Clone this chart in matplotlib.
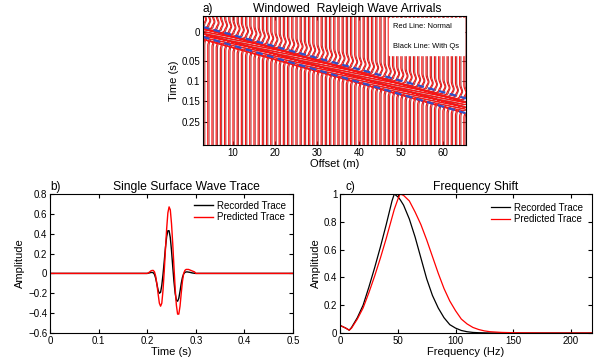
import numpy as np
import matplotlib
matplotlib.use("Agg")
import matplotlib.pyplot as plt
from matplotlib.lines import Line2D

plt.rcParams["font.family"] = ["Liberation Sans", "DejaVu Sans"]

# ---- panel a: windowed wiggle section ----
offsets = np.arange(3, 66)  # m
arrivals = [16.2, 17.4, 18.6, 19.8, 21.0, 22.2, 23.3, 24.5, 25.7, 26.9, 28.1, 29.3, 30.5,
            31.7, 32.9, 34.1, 35.2, 36.4, 37.6, 38.8, 40.0, 41.2, 42.4, 43.6, 44.8, 46.0,
            47.1, 48.3, 49.5, 50.7, 51.9, 53.1, 54.3, 55.5, 56.7, 57.9, 59.0, 60.2, 61.4,
            62.6, 63.8, 65.0, 66.2, 67.4, 68.6, 69.8, 70.9, 72.1, 73.3, 74.5, 75.7, 76.9,
            78.1, 79.3, 80.5, 81.7, 82.8, 84.0, 85.2, 86.4, 87.6, 88.8, 90.0]  # samples
wav_lag = np.arange(-20, 17)
wav_normal = [0, 0.03, 0.08, 0.15, 0.25, 0.35, 0.45, 0.5, 0.47, 0.37, 0.22, 0.08, 0.0,
              -0.1, -0.4, -1.4, -0.8, 1.0, 1.4, 0.2, -1.3, -1.3, 0.2, 1.4, 1.0, -0.4,
              -1.1, -0.4, 0.15, 0.2, 0.1, 0.03, 0, 0, 0, 0, 0]
wav_qs = [0, 0.02, 0.06, 0.12, 0.2, 0.28, 0.36, 0.4, 0.38, 0.3, 0.18, 0.07, 0.0,
          -0.05, -0.3, -1.0, -0.8, 0.6, 1.1, 0.35, -0.9, -1.1, 0.0, 1.0, 1.0, -0.1,
          -0.8, -0.5, 0.05, 0.15, 0.1, 0.05, 0.02, 0, 0, 0, 0]
n_samples = 130
win_top = ([2.86, 65.5], [11.0, 83.0])
win_bot = ([2.86, 65.5], [21.0, 98.0])
a_ytick_pos = [16, 45, 65, 86, 107]
a_ytick_lab = ["0", "0.05", "0.1", "0.15", "0.25"]

# ---- panel b: single trace ----
t_b = [0.0, 0.195, 0.2, 0.2025, 0.205, 0.2075, 0.21, 0.2125, 0.215, 0.2175, 0.22,
       0.2225, 0.225, 0.2275, 0.23, 0.2325, 0.235, 0.2375, 0.24, 0.2425, 0.245,
       0.2475, 0.25, 0.2525, 0.255, 0.2575, 0.26, 0.2625, 0.265, 0.2675, 0.27,
       0.2725, 0.275, 0.2775, 0.28, 0.2825, 0.285, 0.2875, 0.29, 0.2925, 0.295,
       0.2975, 0.3, 0.5]
recorded_b = [0, 0, 0.0, 0.003, 0.006, 0.009, 0.01, 0.006, -0.01, -0.05, -0.11,
              -0.17, -0.2, -0.19, -0.12, -0.01, 0.12, 0.26, 0.37, 0.43, 0.43,
              0.36, 0.23, 0.07, -0.08, -0.2, -0.27, -0.28, -0.25, -0.18, -0.1,
              -0.04, -0.005, 0.01, 0.015, 0.015, 0.013, 0.011, 0.008, 0.005, 0.003,
              0.001, 0, 0]
predicted_b = [0, 0, 0.0, 0.005, 0.015, 0.025, 0.03, 0.03, 0.015, -0.03, -0.11,
               -0.21, -0.3, -0.33, -0.3, -0.17, 0.02, 0.24, 0.45, 0.61, 0.67,
               0.64, 0.5, 0.3, 0.07, -0.15, -0.32, -0.41, -0.41, -0.33, -0.2,
               -0.08, 0.0, 0.03, 0.04, 0.04, 0.04, 0.035, 0.03, 0.025, 0.02,
               0.015, 0, 0]

# ---- panel c: amplitude spectra ----
f_c = [0, 5, 8, 10, 15, 20, 25, 30, 35, 40, 45, 47, 50, 52, 55, 60, 65, 70, 75, 80,
       85, 90, 95, 100, 105, 110, 115, 120, 125, 130, 140, 150, 160, 175, 218]
recorded_c = [0.055, 0.035, 0.02, 0.04, 0.11, 0.2, 0.33, 0.47, 0.62, 0.78, 0.95, 1.0,
              0.98, 0.96, 0.92, 0.82, 0.69, 0.54, 0.39, 0.27, 0.18, 0.11, 0.06, 0.035,
              0.018, 0.009, 0.004, 0.002, 0.001, 0, 0, 0, 0, 0, 0]
predicted_c = [0.055, 0.035, 0.02, 0.035, 0.1, 0.18, 0.29, 0.41, 0.54, 0.68, 0.83, 0.89,
               0.96, 1.0, 0.99, 0.95, 0.87, 0.78, 0.67, 0.55, 0.43, 0.32, 0.23, 0.16,
               0.1, 0.065, 0.04, 0.025, 0.015, 0.009, 0.004, 0.002, 0.001, 0, 0]


def style_axes(ax):
    ax.tick_params(direction="in", top=True, right=True, labelsize=7, length=3, pad=2)
    for s in ax.spines.values():
        s.set_linewidth(0.8)


def panel_label(ax, txt, x=0.0):
    ax.annotate(txt, (x, 1), xycoords="axes fraction", xytext=(0, 3),
                textcoords="offset points", fontsize=8.5, ha="left", va="baseline")


fig = plt.figure(figsize=(5.97, 3.64), dpi=100)

# panel a
ax = fig.add_axes([0.340, 0.6016, 0.4405, 0.3544])
for x0, t0 in zip(offsets, arrivals):
    y = np.concatenate([[0], t0 + wav_lag, [n_samples]])
    xq = np.concatenate([[0], wav_qs, [0]]) + x0 + 0.3
    xn = np.concatenate([[0], wav_normal, [0]]) + x0
    ax.plot(xq, y, color="#a84040", lw=0.8)
    ax.plot(xn, y, color="#ff1010", lw=0.85)
ax.plot(*win_top, color="#3050c8", lw=1.6, ls=(0, (3, 2)))
ax.plot(*win_bot, color="#3050c8", lw=1.6, ls=(0, (3, 2)))
ax.set_xlim(2.86, 65.5)
ax.set_ylim(n_samples, 0)
ax.set_xticks([10, 20, 30, 40, 50, 60])
ax.set_yticks(a_ytick_pos)
ax.set_yticklabels(a_ytick_lab)
style_axes(ax)
ax.set_xlabel("Offset (m)", fontsize=8, labelpad=1)
ax.set_ylabel("Time (s)", fontsize=8, labelpad=2)
ax.set_title("Windowed  Rayleigh Wave Arrivals", fontsize=8.7, pad=3, x=0.548)
panel_label(ax, "a)")
blank = Line2D([], [], lw=0)
leg = ax.legend([blank, blank], ["Red Line: Normal", "Black Line: With Qs"],
                loc="upper right", fontsize=5.4, handlelength=0, handletextpad=0,
                frameon=True, fancybox=False, borderpad=0.6, labelspacing=1.7,
                borderaxespad=0.3)
leg.get_frame().set_edgecolor("white")
leg.get_frame().set_alpha(1)

# panel b
ax = fig.add_axes([0.0838, 0.0852, 0.407, 0.3819])
ax.plot(t_b, recorded_b, color="black", lw=1.0, label="Recorded Trace")
ax.plot(t_b, predicted_b, color="#ff0000", lw=1.0, label="Predicted Trace")
ax.set_xlim(0, 0.5)
ax.set_ylim(-0.6, 0.8)
ax.set_xticks([0, 0.1, 0.2, 0.3, 0.4, 0.5])
ax.set_xticklabels(["0", "0.1", "0.2", "0.3", "0.4", "0.5"])
ax.set_yticks([-0.6, -0.4, -0.2, 0, 0.2, 0.4, 0.6, 0.8])
ax.set_yticklabels(["\u22120.6", "\u22120.4", "\u22120.2", "0", "0.2", "0.4", "0.6", "0.8"])
style_axes(ax)
ax.set_xlabel("Time (s)", fontsize=8, labelpad=1)
ax.set_ylabel("Amplitude", fontsize=8, labelpad=2)
ax.set_title("Single Surface Wave Trace", fontsize=8.7, pad=3, x=0.56)
panel_label(ax, "b)")
ax.legend(loc="upper right", fontsize=7, frameon=False, handlelength=2.0,
          handletextpad=0.4, labelspacing=0.15, borderaxespad=0.3)

# panel c
ax = fig.add_axes([0.5695, 0.0852, 0.422, 0.3819])
ax.plot(f_c, recorded_c, color="black", lw=0.9, label="Recorded Trace")
ax.plot(f_c, predicted_c, color="#ff0000", lw=0.9, label="Predicted Trace")
ax.set_xlim(0, 218)
ax.set_ylim(0, 1)
ax.set_xticks([0, 50, 100, 150, 200])
ax.set_yticks([0, 0.2, 0.4, 0.6, 0.8, 1])
ax.set_yticklabels(["0", "0.2", "0.4", "0.6", "0.8", "1"])
style_axes(ax)
ax.set_xlabel("Frequency (Hz)", fontsize=8, labelpad=1)
ax.set_ylabel("Amplitude", fontsize=8, labelpad=2)
ax.set_title("Frequency Shift", fontsize=8.7, pad=3, x=0.538)
panel_label(ax, "c)", x=0.02)
ax.legend(loc="upper right", fontsize=7, frameon=False, handlelength=2.0,
          handletextpad=0.4, labelspacing=0.15, borderaxespad=0.5)

fig.savefig("out.png", dpi=100)
